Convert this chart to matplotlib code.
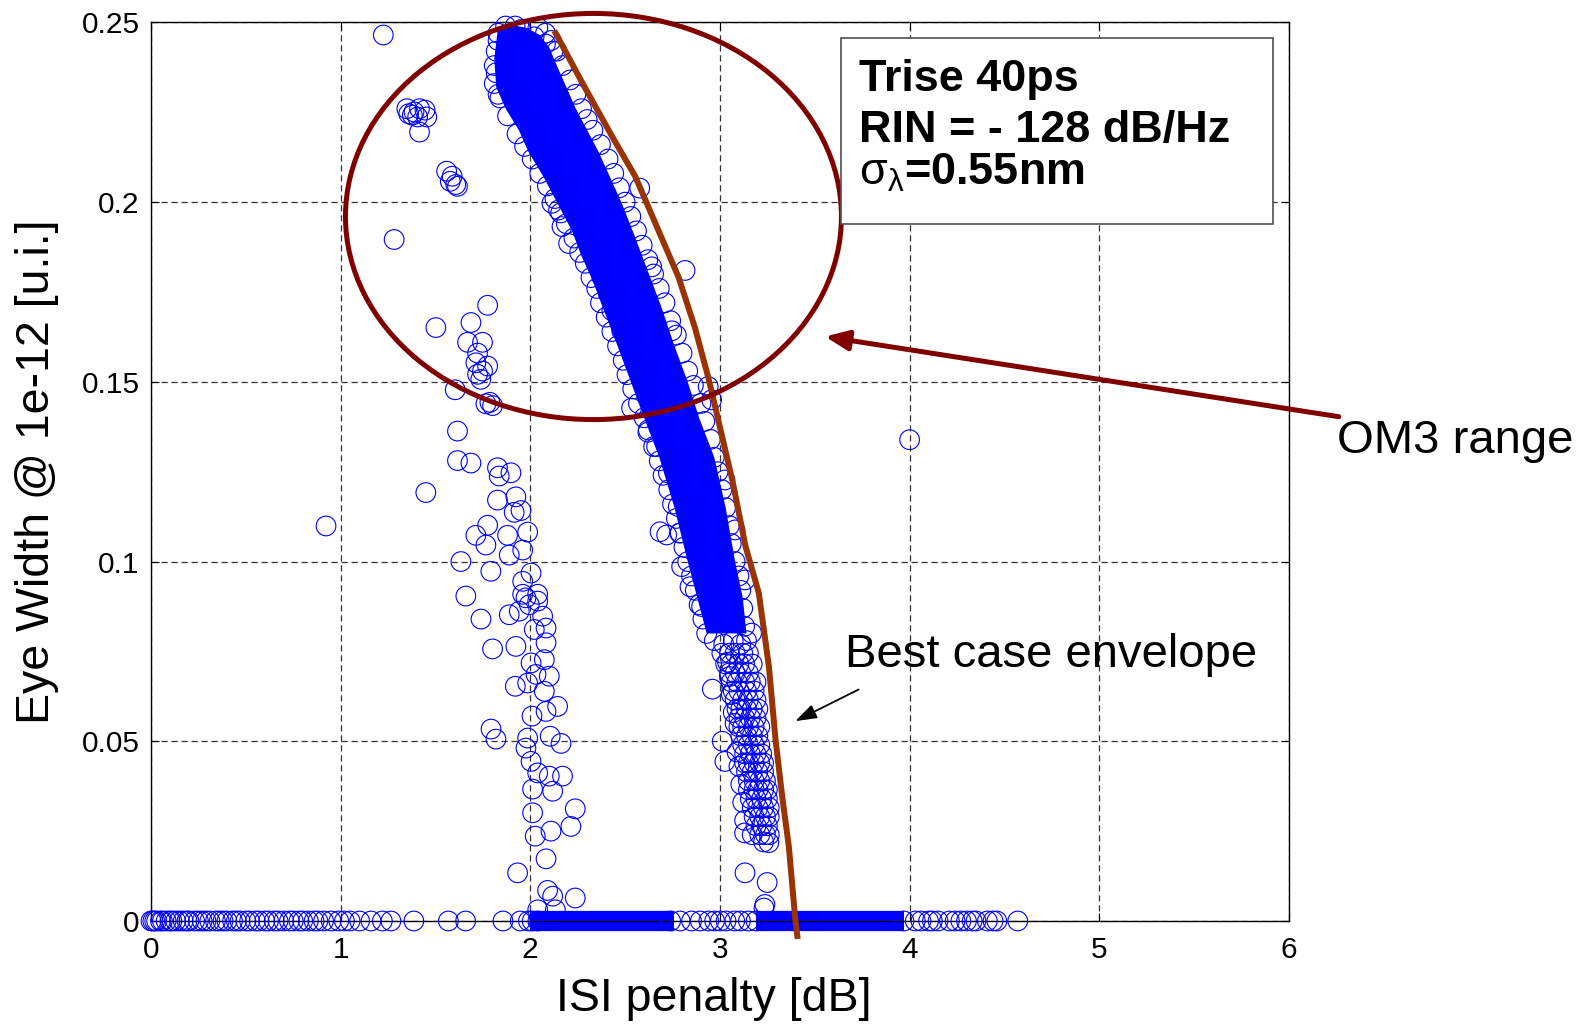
import matplotlib
matplotlib.use("Agg")
import matplotlib.pyplot as plt
from matplotlib.patches import Ellipse, Rectangle

plt.rcParams['font.family'] = ['Liberation Sans', 'DejaVu Sans']
plt.rcParams['mathtext.fontset'] = 'custom'
plt.rcParams['mathtext.rm'] = 'Liberation Sans'
plt.rcParams['mathtext.it'] = 'Liberation Sans:italic'
plt.rcParams['mathtext.bf'] = 'Liberation Sans:bold'

BLUE = '#0000ff'
DARKRED = '#800000'
BROWN = '#993300'

# ---- data (ISI penalty [dB], eye width [u.i.]) ----

# scattered points left of the main band
left_x = [1.225, 1.349, 1.387, 1.416, 1.445, 1.406, 1.454, 1.378, 1.416, 1.359,
          1.559, 1.588, 1.607, 1.578, 1.616, 1.282, 0.923,
          1.775, 1.502, 1.687, 1.669, 1.748, 1.722, 1.713, 1.775, 1.748, 1.722,
          1.739, 1.604, 1.766, 1.801, 1.787, 1.616, 1.616, 1.687, 1.827, 1.836,
          1.898, 1.449, 1.827, 1.924, 1.915, 1.951, 1.775, 1.713, 1.766, 1.880,
          1.986, 1.889, 1.960, 1.634, 1.792, 2.004, 1.960, 1.660, 1.960, 2.039,
          1.740, 1.801, 1.889, 1.942, 1.995, 2.039, 1.977, 2.065, 2.083, 2.021,
          1.924, 2.083, 2.074, 2.004, 2.100, 1.921, 1.986, 2.030, 2.074, 2.144,
          2.083, 2.009, 1.793, 1.819, 1.986, 1.977, 2.105, 2.162, 2.004, 2.039,
          2.100, 2.170, 2.012, 2.118, 2.237, 2.012, 2.214, 2.026, 2.109, 2.083,
          1.933, 2.091, 2.118, 2.237, 2.132, 2.039]
left_y = [0.2465, 0.2260, 0.2251, 0.2260, 0.2256, 0.2237, 0.2237, 0.2242, 0.2195, 0.2246,
          0.2086, 0.2072, 0.2049, 0.2058, 0.2044, 0.1896, 0.1099,
          0.1713, 0.1651, 0.1665, 0.1610, 0.1610, 0.1580, 0.1553, 0.1544, 0.1530, 0.1521,
          0.1507, 0.1478, 0.1439, 0.1434, 0.1443, 0.1363, 0.1281, 0.1274, 0.1261, 0.1238,
          0.1247, 0.1192, 0.1171, 0.1180, 0.1137, 0.1142, 0.1101, 0.1073, 0.1046, 0.1073,
          0.1082, 0.1018, 0.1032, 0.1000, 0.0973, 0.0968, 0.0945, 0.0904, 0.0909, 0.0909,
          0.0840, 0.0757, 0.0852, 0.0862, 0.0880, 0.0890, 0.0899, 0.0848, 0.0815, 0.0811,
          0.0764, 0.0774, 0.0727, 0.0718, 0.0681, 0.0653, 0.0662, 0.0686, 0.0639, 0.0597,
          0.0583, 0.0570, 0.0534, 0.0506, 0.0509, 0.0481, 0.0514, 0.0494, 0.0444, 0.0412,
          0.0403, 0.0403, 0.0367, 0.0361, 0.0312, 0.0301, 0.0263, 0.0236, 0.0250, 0.0173,
          0.0134, 0.0085, 0.0069, 0.0064, 0.0031, 0.0031]

# saturated core of the main band (outline of the solid blue region)
core_x = [1.83, 1.81, 1.82, 1.87, 1.94, 1.99, 2.07, 2.14, 2.22, 2.27, 2.33, 2.38,
          2.46, 2.53, 2.60, 2.68, 2.76, 2.83, 2.88, 2.93,
          3.14, 3.12, 3.08, 3.03, 2.97, 2.89, 2.83, 2.76, 2.69, 2.59, 2.54, 2.48,
          2.42, 2.36, 2.30, 2.24, 2.19, 2.14, 2.10, 2.05, 1.98, 1.88]
core_y = [0.2485, 0.2400, 0.2320, 0.2260, 0.2200, 0.2140, 0.2070, 0.2000, 0.1920, 0.1850, 0.1780, 0.1710,
          0.1600, 0.1500, 0.1400, 0.1290, 0.1150, 0.1000, 0.0900, 0.0800,
          0.0800, 0.0900, 0.1000, 0.1150, 0.1290, 0.1400, 0.1500, 0.1600, 0.1710, 0.1850, 0.1920, 0.2000,
          0.2070, 0.2140, 0.2200, 0.2260, 0.2320, 0.2380, 0.2430, 0.2465, 0.2485, 0.2495]

# individual circles on the edges of the core, around it and in the lower tail of the band
band_x = [1.83, 1.82, 1.84, 1.88, 1.93, 1.97, 2.01, 2.05, 2.09, 2.13, 2.16, 2.19,
          2.23, 2.26, 2.29, 2.32, 2.35, 2.37, 2.40, 2.43, 2.46, 2.49, 2.51, 2.54,
          2.57, 2.60, 2.62, 2.65, 2.68, 2.70, 2.73, 2.75, 2.77, 2.79, 2.81, 2.83,
          2.85, 2.87, 2.89, 2.91, 2.93,
          3.13, 3.12, 3.11, 3.10, 3.08, 3.06, 3.05, 3.03, 3.01, 2.99, 2.97, 2.95,
          2.92, 2.90, 2.86, 2.83, 2.80, 2.77, 2.74, 2.71, 2.68, 2.65, 2.62, 2.59,
          2.56, 2.53, 2.50, 2.47, 2.44, 2.41, 2.37, 2.33, 2.30, 2.27, 2.24, 2.21,
          2.17, 2.14, 2.11, 2.08, 2.04, 1.92,
          2.114, 2.149, 2.167, 2.202, 2.377, 2.412, 2.430, 2.482, 2.534,
          2.622, 2.666, 2.728, 2.684, 2.719, 2.789, 2.780, 2.798, 2.842, 2.903,
          2.577, 2.640, 2.746, 2.816, 2.956, 3.026,
          3.079, 3.132, 3.167, 2.938,
          1.87, 1.83, 1.95, 2.02, 2.08, 1.82, 1.81, 1.81, 1.83, 2.12,
          2.97, 3.02, 3.07, 3.11, 3.14,
          3.01, 3.05, 3.08, 3.12, 3.15,
          3.03, 3.06, 3.10, 3.13, 3.17,
          3.04, 3.05, 3.08, 3.11, 3.15,
          3.05, 3.06, 3.09, 3.13, 3.16, 3.19,
          2.960, 3.07, 3.10, 3.14, 3.18,
          3.06, 3.08, 3.12, 3.15, 3.19,
          3.07, 3.09, 3.11, 3.14, 3.17, 3.20,
          3.08, 3.10, 3.13, 3.16, 3.19,
          3.10, 3.12, 3.15, 3.18, 3.21,
          3.11, 3.14, 3.17, 3.20,
          3.012, 3.09, 3.12, 3.15, 3.18, 3.21,
          3.026, 3.10, 3.13, 3.16, 3.19, 3.22,
          3.13, 3.15, 3.18, 3.21, 3.23,
          3.11, 3.14, 3.17, 3.20, 3.23,
          3.15, 3.18, 3.21, 3.24,
          3.12, 3.15, 3.18, 3.20, 3.23, 3.25,
          3.16, 3.19, 3.22, 3.25,
          3.13, 3.17, 3.20, 3.23, 3.26,
          3.18, 3.21, 3.24, 3.26,
          3.19, 3.22, 3.25,
          3.13, 3.17, 3.21, 3.24, 3.26,
          3.23, 3.258,
          3.132, 3.249, 3.237, 3.232, 4.000]
band_y = [0.2450, 0.2360, 0.2290, 0.2240, 0.2190, 0.2155, 0.2120, 0.2080, 0.2045, 0.2010, 0.1970, 0.1940,
          0.1900, 0.1860, 0.1830, 0.1790, 0.1760, 0.1720, 0.1680, 0.1640, 0.1600, 0.1560, 0.1520, 0.1480,
          0.1440, 0.1400, 0.1360, 0.1320, 0.1280, 0.1240, 0.1200, 0.1160, 0.1120, 0.1080, 0.1040, 0.1000,
          0.0960, 0.0920, 0.0880, 0.0840, 0.0800,
          0.0820, 0.0870, 0.0920, 0.0960, 0.1000, 0.1050, 0.1100, 0.1150, 0.1200, 0.1250, 0.1290, 0.1340,
          0.1390, 0.1440, 0.1490, 0.1530, 0.1580, 0.1630, 0.1670, 0.1720, 0.1760, 0.1800, 0.1840, 0.1880,
          0.1920, 0.1960, 0.2000, 0.2040, 0.2080, 0.2120, 0.2160, 0.2200, 0.2230, 0.2260, 0.2300, 0.2340,
          0.2380, 0.2420, 0.2450, 0.2470, 0.2485, 0.2490,
          0.1997, 0.1978, 0.1932, 0.1885, 0.1792, 0.1745, 0.1698, 0.1642, 0.1427,
          0.1366, 0.1320, 0.1246, 0.1083, 0.1074, 0.1079, 0.1153, 0.0986, 0.0930, 0.0875,
          0.2039, 0.1820, 0.1642, 0.1810, 0.1450, 0.1227,
          0.1088, 0.0949, 0.0801, 0.1487,
          0.2490, 0.2470, 0.2480, 0.2460, 0.2440, 0.2420, 0.2380, 0.2330, 0.2300, 0.2420,
          0.0780, 0.0770, 0.0780, 0.0770, 0.0780,
          0.0745, 0.0745, 0.0745, 0.0745, 0.0745,
          0.0715, 0.0715, 0.0715, 0.0715, 0.0715,
          0.0720, 0.0690, 0.0690, 0.0690, 0.0690,
          0.0680, 0.0665, 0.0665, 0.0665, 0.0665, 0.0665,
          0.0645, 0.0640, 0.0640, 0.0640, 0.0640,
          0.0630, 0.0615, 0.0615, 0.0615, 0.0615,
          0.0580, 0.0590, 0.0590, 0.0590, 0.0590, 0.0590,
          0.0550, 0.0565, 0.0565, 0.0565, 0.0565,
          0.0540, 0.0540, 0.0540, 0.0540, 0.0540,
          0.0515, 0.0515, 0.0515, 0.0515,
          0.0500, 0.0470, 0.0490, 0.0490, 0.0490, 0.0490,
          0.0444, 0.0430, 0.0465, 0.0465, 0.0465, 0.0465,
          0.0440, 0.0440, 0.0440, 0.0440, 0.0440,
          0.0380, 0.0415, 0.0415, 0.0415, 0.0415,
          0.0390, 0.0390, 0.0390, 0.0390,
          0.0330, 0.0365, 0.0365, 0.0365, 0.0365, 0.0365,
          0.0340, 0.0340, 0.0340, 0.0340,
          0.0280, 0.0315, 0.0315, 0.0315, 0.0315,
          0.0290, 0.0290, 0.0290, 0.0290,
          0.0265, 0.0265, 0.0265,
          0.0245, 0.0240, 0.0240, 0.0240, 0.0240,
          0.0220, 0.0218,
          0.0134, 0.0107, 0.0046, 0.0036, 0.1339]

# closed eyes (eye width = 0): individual circles and saturated stretches
zero_x = [0.00, 0.01, 0.02, 0.03, 0.05, 0.06, 0.08, 0.10, 0.11, 0.13, 0.15, 0.17,
          0.19, 0.20, 0.23, 0.25, 0.27, 0.29, 0.31, 0.34, 0.36, 0.38, 0.40, 0.43,
          0.45, 0.47, 0.50, 0.52, 0.55, 0.57, 0.60, 0.62, 0.65, 0.67, 0.70, 0.73,
          0.75, 0.78, 0.80, 0.83, 0.86, 0.88, 0.91, 0.95, 0.99, 1.02, 1.05, 1.10,
          1.16, 1.22, 1.265, 1.386, 1.568, 1.659, 1.856, 1.947, 1.99, 2.01, 2.04,
          2.74, 2.79, 2.85, 2.896, 2.941, 2.972, 3.002, 3.032, 3.078, 3.108, 3.15,
          3.19, 3.97, 4.03, 4.06, 4.10, 4.12, 4.15, 4.21, 4.24, 4.27, 4.30, 4.33,
          4.35, 4.41, 4.44, 4.46, 4.57]
zero_spans = [(2.00, 2.76), (3.19, 3.97)]

# best case envelope
env_x = [2.126, 2.140, 2.272, 2.430, 2.553, 2.675, 2.781, 2.868, 2.939, 3.065,
         3.135, 3.205, 3.258, 3.293, 3.328, 3.363, 3.398, 3.41]
env_y = [0.2477, 0.2464, 0.2334, 0.2184, 0.2072, 0.1922, 0.1792, 0.1651, 0.1511, 0.1227,
         0.1042, 0.0912, 0.0708, 0.0505, 0.0347, 0.0208, 0.0, -0.005]

x_ticks = [0, 1, 2, 3, 4, 5, 6]
y_ticks = [0, 0.05, 0.1, 0.15, 0.2, 0.25]
y_tick_labels = ['0', '0.05', '0.1', '0.15', '0.2', '0.25']

box_lines = ['Trise 40ps', 'RIN = - 128 dB/Hz', r'$\mathrm{\sigma}_{\mathrm{\lambda}}$=0.55nm']

# ---- figure ----
fig = plt.figure(figsize=(15.96, 10.24), dpi=100)
ax = fig.add_axes([0.0946, 0.1006, 0.7130, 0.8775])

ax.fill(core_x, core_y, color=BLUE, lw=0, zorder=2, clip_on=False)
for a, b in zero_spans:
    ax.plot([a, b], [0, 0], color=BLUE, lw=14.6, solid_capstyle='butt', zorder=2, clip_on=False)

mk = dict(s=200, facecolors='none', edgecolors=BLUE, linewidths=0.8, zorder=3, clip_on=False)
ax.scatter(left_x, left_y, **mk)
ax.scatter(band_x, band_y, **mk)
ax.scatter(zero_x, [0] * len(zero_x), **mk)

ax.plot(env_x, env_y, color=BROWN, lw=4.3, zorder=4, clip_on=False, solid_capstyle='butt')

ax.add_patch(Ellipse((2.333, 0.196), 2.615, 0.113, fill=False, ec=DARKRED, lw=3.6,
                     zorder=5, clip_on=False))

ax.annotate('', xy=(3.554, 0.1626), xytext=(6.263, 0.1403), annotation_clip=False,
            arrowprops=dict(arrowstyle='-|>,head_length=0.7,head_width=0.3', mutation_scale=20,
                            color=DARKRED, lw=3.6, shrinkA=0, shrinkB=0), zorder=6)
ax.text(6.255, 0.1302, 'OM3 range', fontsize=34, ha='left', va='baseline')

ax.annotate('', xy=(3.397, 0.0556), xytext=(3.731, 0.0644), annotation_clip=False,
            arrowprops=dict(arrowstyle='-|>,head_length=0.65,head_width=0.22', mutation_scale=20,
                            color='black', lw=1.3, shrinkA=0, shrinkB=0), zorder=6)
ax.text(3.66, 0.0708, 'Best case envelope', fontsize=34, ha='left', va='baseline', zorder=6)

# parameter box
ax.add_patch(Rectangle((3.636, 0.1939), 2.279, 0.0519, fc='white', ec='#505050', lw=1.2, zorder=7))
for txt, yb in zip(box_lines, [0.2310, 0.2166, 0.2048]):
    ax.text(3.731, yb, txt, fontsize=32.4, fontweight='bold', ha='left', va='baseline', zorder=8)

ax.set_xlim(0, 6)
ax.set_ylim(0, 0.25)
ax.set_xticks(x_ticks)
ax.set_yticks(y_ticks)
ax.set_yticklabels(y_tick_labels)
ax.tick_params(direction='in', length=6, width=0.8, labelsize=21.5, top=True, right=True)
ax.tick_params(axis='x', pad=11)
ax.tick_params(axis='y', pad=8)
ax.grid(True, color='#333333', linestyle=(0, (5, 3)), lw=0.9)
ax.set_axisbelow(True)
for sp in ax.spines.values():
    sp.set_linewidth(1.0)
    sp.set_zorder(2.5)

ax.set_xlabel('ISI penalty [dB]', fontsize=33.5)
ax.set_ylabel('Eye Width @ 1e-12 [u.i.]', fontsize=33.5)
ax.xaxis.set_label_coords(0.495, -0.062)
ax.yaxis.set_label_coords(-0.081, 0.4995)

fig.savefig('out.png', dpi=100)
